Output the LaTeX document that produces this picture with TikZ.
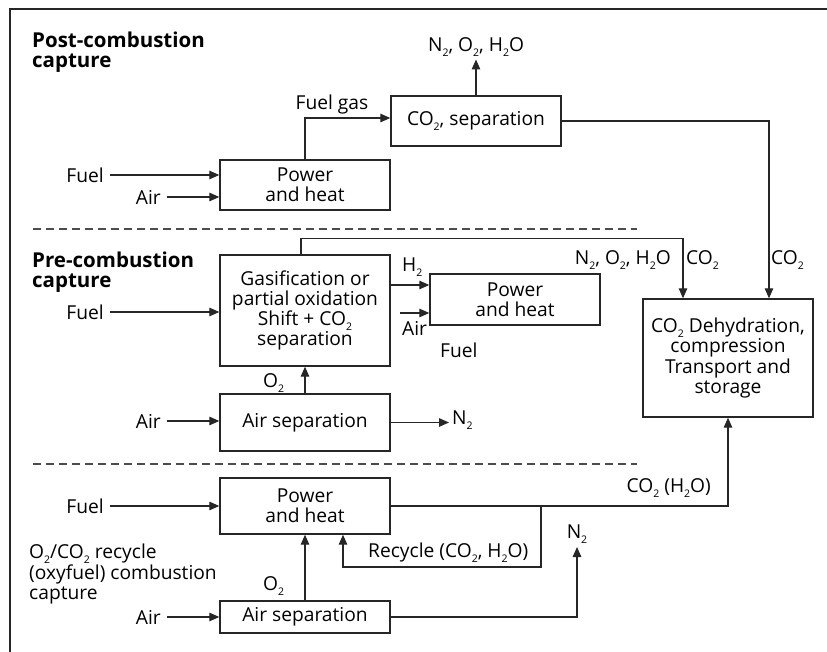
\documentclass[tikz,border=0pt]{standalone}
\usepackage{fontspec}
\setmainfont{Open Sans}
\usetikzlibrary{arrows.meta}
% subscript with depth (for free labels) and smashed (inside boxes)
\newcommand\sbt[1]{\raisebox{-5pt}{\fontsize{10.5}{10.5}\selectfont #1}}
\newcommand\sbs[1]{\raisebox{-5pt}[0pt][0pt]{\fontsize{10.5}{10.5}\selectfont #1}}
\begin{document}
\begin{tikzpicture}[x=1pt,y=-1pt,
  every node/.style={font=\fontsize{19.2}{20.3}\selectfont},
  box/.style={draw=black!85, line width=1.4pt, minimum width=170pt, inner sep=0pt, align=center},
  lbl/.style={inner sep=0pt},
  title/.style={font=\fontsize{20.5}{20}\selectfont\bfseries, align=left, inner sep=0pt},
  arr/.style={draw=black!85, line width=1.3pt, -{Triangle[length=10pt,width=8.5pt]}},
  fromlbl/.style={shorten <=6pt},
  sepline/.style={draw=black!70, line width=1.2pt, dash pattern=on 8pt off 5pt}]
\useasboundingbox (0,0) rectangle (827,652);
% frame
\draw[black!85, line width=1.4pt] (827,9) -- (10,9) -- (10,652);
% separators
\draw[sepline] (33,229) -- (637,229);
\draw[sepline] (33,464) -- (637,464);

% ---------- Post-combustion ----------
\node[title, anchor=north west] (t1) at (32,31.5) {Post-combustion\\capture};
\node[box, minimum height=50pt] (ph1) at (305,185) {Power\\and heat};
\node[box, minimum height=50pt] (sep1) at (476,121) {CO\sbs{2}, separation};
\node[lbl, anchor=east] (f1) at (104,175) {Fuel};
\node[lbl, anchor=east] (a1) at (161,197) {Air};
\node[lbl, anchor=base] (fg) at (332,110) {Fuel gas};
\node[lbl, anchor=south] (n1) at (476,56.5) {N\sbt{2}, O\sbt{2}, H\sbt{2}O};
\draw[arr, fromlbl] (f1.east) -- (ph1.west |- f1.east);
\draw[arr, fromlbl] (a1.east) -- (ph1.west |- a1.east);
\draw[arr] (ph1.north) |- ([yshift=3pt]sep1.west);
\draw[arr, shorten >=3pt] (sep1.north) -- (n1.south);

% ---------- CO2 dehydration ----------
\node[box, minimum height=118pt] (dehy) at (728,358) {CO\sbs{2} Dehydration,\\compression\\Transport and\\storage};
\draw[arr] (sep1.east) -| ([xshift=41pt]dehy.north);

% ---------- Pre-combustion ----------
\node[title, anchor=north west] (t2) at (32,251.5) {Pre-combustion\\capture};
\node[box, minimum height=111pt] (gas) at (305,310.5) {Gasification or\\partial oxidation\\Shift + CO\sbs{2}\\separation};
\node[box, minimum height=51pt] (ph2) at (515,299.5) {Power\\and heat};
\node[box, minimum height=57pt] (as1) at (305,422.5) {Air separation};
\node[lbl, anchor=east] (f2) at (104,312) {Fuel};
\node[lbl, anchor=east] (a2) at (161,421) {Air};
\node[lbl, anchor=base west] (co2a) at (686,265) {CO\sbs{2}};
\node[lbl, anchor=base west] (co2b) at (771,265) {CO\sbs{2}};
\node[lbl, anchor=base east] (n3) at (671,265) {N\sbs{2}, O\sbs{2}, H\sbs{2}O};
\node[lbl, anchor=base west] (h2) at (402,272) {H\sbs{2}};
\node[lbl, anchor=base west] (air2) at (402,335) {Air};
\node[lbl, anchor=base west] (fu2) at (440,357) {Fuel};
\node[lbl, anchor=base west] (o2a) at (263,387) {O\sbs{2}};
\node[lbl, anchor=base west] (n2a) at (452,424) {N\sbs{2}};
\coordinate (h2in) at ([yshift=14.5pt]ph2.west);
\coordinate (airst) at (400,313);
\draw[arr, fromlbl] (f2.east) -- (gas.west |- f2.east);
\draw[arr, fromlbl] (a2.east) -- (as1.west |- a2.east);
\draw[arr] ([xshift=-4pt]gas.north) -- ++(0,-16) -| ([xshift=-45pt]dehy.north);
\draw[arr] (gas.east |- h2in) -- (h2in);
\draw[arr] (airst) -- (ph2.west |- airst);
\draw[arr] (as1.north) -- (gas.south);
\draw[arr, shorten >=3pt] (as1.east) -- (as1.east -| n2a.west);

% ---------- Oxyfuel ----------
\node[lbl, anchor=north west, align=left] (t3) at (29,544) {O\sbs{2}/CO\sbs{2} recycle\\(oxyfuel) combustion\\capture};
\node[box, minimum height=56pt] (ph3) at (305,506) {Power\\and heat};
\node[box, minimum height=32pt] (as2) at (305,617) {Air separation};
\node[lbl, anchor=east] (f3) at (104,506) {Fuel};
\node[lbl, anchor=east] (a3) at (161,617) {Air};
\node[lbl, anchor=base east] (co2h) at (711,492) {CO\sbs{2} (H\sbs{2}O)};
\node[lbl, anchor=base west] (rec) at (368,557) {Recycle (CO\sbs{2}, H\sbs{2}O)};
\node[lbl, anchor=base west] (o2b) at (263,590) {O\sbs{2}};
\node[lbl, anchor=south] (n2b) at (577,543.5) {N\sbt{2}};
\coordinate (rc) at (541,506);
\draw[arr, fromlbl] (f3.east) -- (ph3.west |- f3.east);
\draw[arr, fromlbl] (a3.east) -- (as2.west |- a3.east);
\draw[arr] (ph3.east) -| (dehy.south);
\draw[arr] (rc) -- ++(0,61) -| ([xshift=38pt]ph3.south);
\draw[arr] (as2.north) -- (ph3.south);
\draw[arr, shorten >=3.5pt] (as2.east) -| (n2b.south);
\end{tikzpicture}
\end{document}
